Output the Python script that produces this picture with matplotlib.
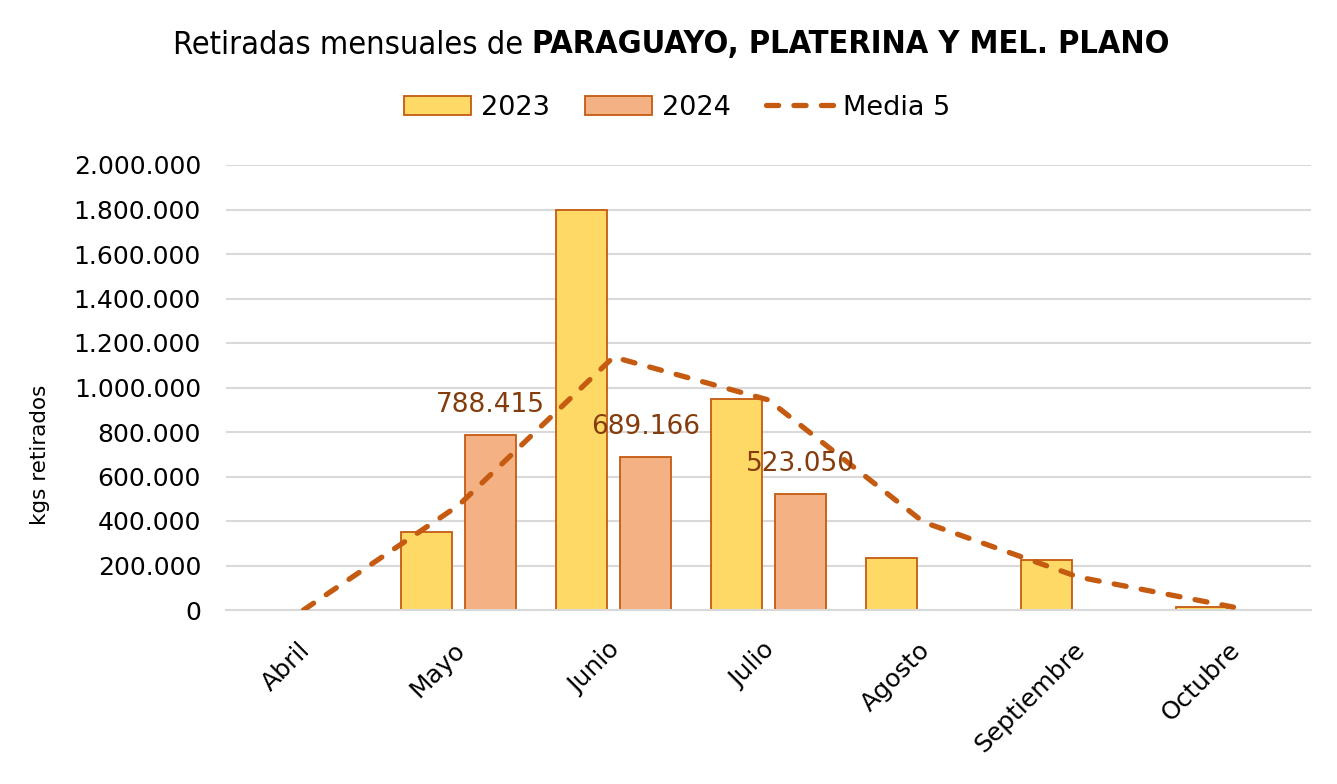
import matplotlib
matplotlib.use("Agg")
import matplotlib.pyplot as plt
import matplotlib.transforms as mtransforms
from matplotlib.ticker import FuncFormatter, MultipleLocator
from matplotlib.lines import Line2D
from matplotlib.patches import Patch
import numpy as np

# ---- data ----
months = ["Abril", "Mayo", "Junio", "Julio", "Agosto", "Septiembre", "Octubre"]
y2023 = [0, 350000, 1797000, 948000, 234000, 225000, 12000]
y2024 = [0, 788415, 689166, 523050, 0, 0, 0]
media5 = [0, 470000, 1137000, 944000, 395000, 148000, 13000]
label_2024 = ["", "788.415", "689.166", "523.050", "", "", ""]

C23 = "#FFD966"
C24 = "#F4B183"
EDGE = "#C55A11"
LBL = "#843C0C"

plt.rcParams['font.family'] = ['DejaVu Sans']

W, H = 1337, 784
fig = plt.figure(figsize=(W / 100, H / 100), dpi=100)
fig.patch.set_facecolor("white")
ax = fig.add_axes([226 / W, 1 - 610 / H, (1311 - 226) / W, (610 - 165) / H])

x = np.arange(len(months))
bw = 0.33
off = 0.206
ax.bar(x - off, y2023, bw, color=C23, edgecolor=EDGE, linewidth=1.3, zorder=2)
ax.bar(x + off, y2024, bw, color=C24, edgecolor=EDGE, linewidth=1.3, zorder=2)
ln, = ax.plot(x, media5, color=EDGE, linewidth=3.8, zorder=3,
              dash_capstyle="round", solid_capstyle="round")
ln.set_dashes((2.3, 2.9))

for xi, v, t in zip(x, y2024, label_2024):
    if t:
        ax.annotate(t, (xi + off, v), xytext=(0, 12), textcoords="offset points",
                    ha="center", va="bottom", fontsize=19, color=LBL, zorder=4)

ax.set_xlim(-0.5, 6.5)
ax.set_ylim(0, 2000000)
ax.yaxis.set_major_locator(MultipleLocator(200000))
ax.yaxis.set_major_formatter(FuncFormatter(lambda v, p: f"{int(v):,}".replace(",", ".")))
ax.grid(axis="y", color="#D9D9D9", linewidth=1.5, zorder=0)
ax.set_axisbelow(True)
for s in ["top", "right", "left"]:
    ax.spines[s].set_visible(False)
ax.spines["bottom"].set_color("#D9D9D9")
ax.spines["bottom"].set_linewidth(1.5)
ax.tick_params(axis="both", length=0, labelsize=18, colors="black")
ax.tick_params(axis="y", pad=18)
ax.set_xticks(x)
ax.set_xticklabels(months, rotation=45, ha="right", rotation_mode="anchor")
ax.tick_params(axis="x", pad=20)
shift = mtransforms.ScaledTranslation(-6 / 100, 0, fig.dpi_scale_trans)
for lab in ax.get_xticklabels():
    lab.set_transform(lab.get_transform() + shift)
ax.set_ylabel("kgs retirados", fontsize=15.5)
ax.yaxis.set_label_coords(-0.162, 0.348)

# title with mixed weight
fig.canvas.draw()
r = fig.canvas.get_renderer()
t1 = fig.text(0, 1 - 45 / H, "Retiradas mensuales de ", fontsize=24, stretch="condensed",
              va="center", ha="left")
t2 = fig.text(0, 1 - 45 / H, "PARAGUAYO, PLATERINA Y MEL. PLANO", fontsize=24, fontweight="bold",
              stretch="condensed", va="center", ha="left")
w1 = t1.get_window_extent(r).width
w2 = t2.get_window_extent(r).width
target = 1000.0
s = 24 * target / (w1 + w2)
t1.set_fontsize(s)
t2.set_fontsize(s)
w1 = t1.get_window_extent(r).width
w2 = t2.get_window_extent(r).width
start = 671 - (w1 + w2) / 2
t1.set_x(start / W)
t2.set_x((start + w1) / W)

handles = [Patch(facecolor=C23, edgecolor=EDGE, linewidth=1.3),
           Patch(facecolor=C24, edgecolor=EDGE, linewidth=1.3),
           Line2D([0], [0], color=EDGE, linewidth=3.8, dashes=(2.3, 2.9), dash_capstyle="round")]
fig.legend(handles, ["2023", "2024", "Media 5"], loc="center", bbox_to_anchor=(677 / W, 1 - 108 / H),
           ncol=3, frameon=False, fontsize=19.5, handlelength=2.5, handleheight=0.75,
           columnspacing=1.3, handletextpad=0.35)

fig.savefig("out.png", dpi=100, facecolor="white")
